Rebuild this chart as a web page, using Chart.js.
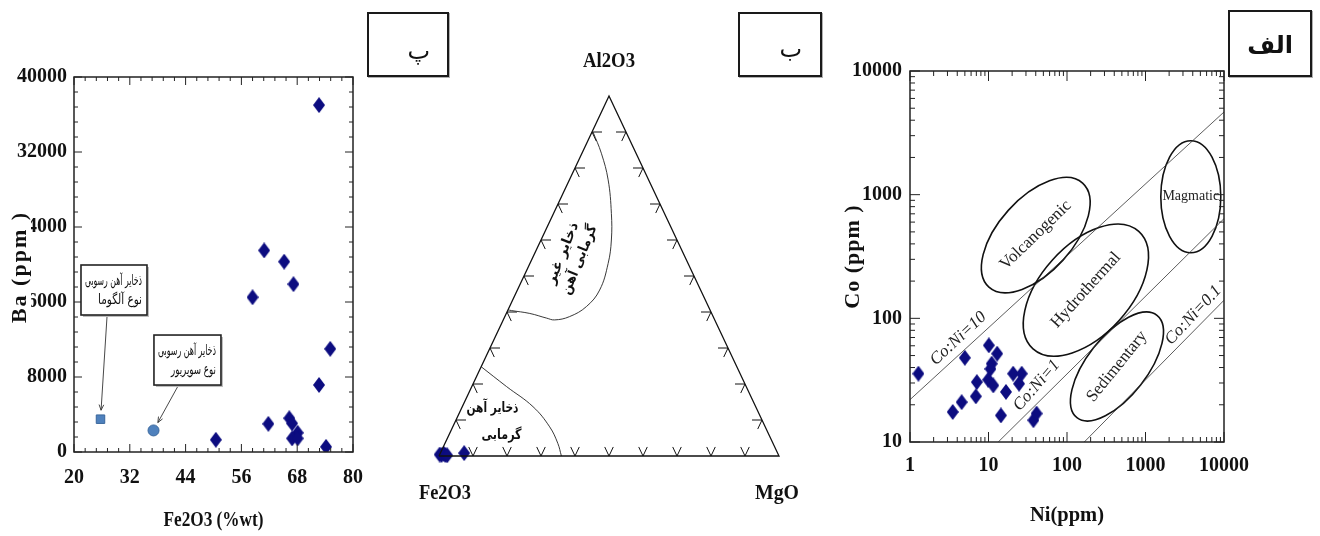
<!DOCTYPE html>
<html lang="fa">
<head>
<meta charset="utf-8">
<title>Iron deposit discrimination diagrams</title>
<script src="https://cdn.jsdelivr.net/npm/chart.js@4.4.1/dist/chart.umd.min.js"></script>
<style>
  html, body { margin: 0; background: #fff; }
  body { position: relative; width: 1320px; height: 536px; overflow: hidden; }
  .panel { position: absolute; top: 0; height: 536px; }
  .tag { position: absolute; box-sizing: border-box; border: 2px solid #1a1a1a; background: #fff;
         box-shadow: 1px 1px 0 #b0b0b0; font-family: "DejaVu Sans", sans-serif; font-size: 24px;
         line-height: 28px; color: #111; direction: rtl; }
  .tag span { position: absolute; }
</style>
</head>
<body>
<div class="panel" style="left:0;width:365px"><canvas id="baChart"></canvas></div>
<div class="panel" style="left:365px;width:465px"><canvas id="ternChart"></canvas></div>
<div class="panel" style="left:830px;width:490px"><canvas id="coChart"></canvas></div>

<div class="tag" style="left:367px;top:12px;width:82px;height:65px"><span style="right:17px;top:23px">پ</span></div>
<div class="tag" style="left:738px;top:12px;width:84px;height:65px"><span style="right:18px;top:21px">ب</span></div>
<div class="tag" style="left:1228px;top:10px;width:84px;height:67px"><span style="right:17px;top:19px;font-weight:bold">الف</span></div>

<script>
const SERIF = '"Liberation Serif", "Times New Roman", serif';
const ARABIC = '"DejaVu Sans", sans-serif';
const NAVY = '#0c0c80';

// --- panel پ : Ba vs Fe2O3 ---
const feWt  = [72.7, 60.9, 65.2, 67.2, 58.4, 75.1, 72.7, 61.8, 66.3, 66.9, 68.1, 66.9, 68.1, 50.5, 74.2];
const baPpm = [37000, 21500, 20300, 17900, 16500, 11000, 7150, 3000, 3600, 3050, 2050, 1450, 1450, 1300, 550];
const algomaFe = [25.7];
const algomaBa = [3500];
const superiorFe = [37.1];
const superiorBa = [2300];
const feTicks = [20, 32, 44, 56, 68, 80];
const baTicks = [0, 8000, 16000, 24000, 32000, 40000];

// --- panel ب : Fe2O3 - Al2O3 - MgO ternary (percent) ---
const sampleAl = [0.4, 0.3, 0.6, 0.3, 0.2, 0.8];
const sampleMg = [0, 0.6, 1.1, 1.7, 2.3, 7.0];
const triAl = [0, 0, 100, 0];
const triMg = [0, 100, 0, 0];
const nonHydroAl = [90, 84.1, 76.7, 67.4, 60, 53.5, 46.1, 41.5, 38.7, 37.8, 38.3, 39.6, 40.4, 40.6];
const nonHydroMg = [0.3, 5.7, 11.4, 17.0, 20.7, 23, 24.2, 22.6, 19, 15.1, 12.5, 6.9, 1.1, 0];
const hydroAl = [24.8, 19.3, 13.7, 8.1, 3.5, 0];
const hydroMg = [0, 10.2, 20.8, 28.5, 33.2, 36];

// --- panel الف : Co vs Ni ---
const niPpm = [1.28, 5.0, 10.1, 12.9, 11, 10.6, 9.9, 11.5, 7.1, 6.9, 4.55, 3.5, 14.4, 16.7, 20.6, 26.5, 24.5, 37.3, 41];
const coPpm = [35.7, 48, 60.5, 51.8, 43, 39, 31.9, 28.7, 30.5, 23.4, 21, 17.5, 16.4, 25.4, 35.7, 35.7, 29.6, 15, 17];
const niTicks = [1, 10, 100, 1000, 10000];
const coTicks = [10, 100, 1000, 10000];
const ratio10Ni = [1, 10000],    ratio10Co = [22, 4660];
const ratio1Ni = [13.3, 10000],  ratio1Co = [10, 640];
const ratio01Ni = [166, 10000],  ratio01Co = [10, 140];

// annotations (anchors in data units, sizes in px)
const regions = [
  { name: 'Volcanogenic', ni: 40,   co: 471, rx: 70, ry: 37, rot: -48, textRot: -44 },
  { name: 'Hydrothermal', ni: 174,  co: 169, rx: 79, ry: 45, rot: -48, textRot: -48 },
  { name: 'Sedimentary',  ni: 433,  co: 40.8, rx: 65, ry: 30, rot: -52, textRot: -51 },
  { name: 'Magmatic',     ni: 3776, co: 963, rx: 30, ry: 56, rot: 0,   textRot: 0 }
];
const ratioLabels = [
  { text: 'Co:Ni=10',  ni: 4.12, co: 68.5, rot: -43 },
  { text: 'Co:Ni=1',   ni: 41.1, co: 28.7, rot: -49 },
  { text: 'Co:Ni=0.1', ni: 4064, co: 106,  rot: -47 }
];
const callouts = [
  { lines: ['ذخایر آهن رسوبی', 'نوع آلگوما'], fe: 28.6, ba: 17280, w: 66, h: 50, dx: -7, tx: algomaFe[0], ty: algomaBa[0] },
  { lines: ['ذخایر آهن رسوبی', 'نوع سوپریور'], fe: 44.4, ba: 9810, w: 67, h: 50, dx: -10, tx: superiorFe[0], ty: superiorBa[0] }
];

function pts(xs, ys) { return xs.map((v, i) => ({ x: v, y: ys[i] })); }
function ternPts(al, mg) { return al.map((a, i) => ({ x: mg[i] + a / 2, y: a })); }

function makeDiamond(w, h, color) {
  const c = document.createElement('canvas');
  c.width = w; c.height = h;
  const g = c.getContext('2d');
  g.fillStyle = color;
  g.beginPath();
  g.moveTo(w / 2, 0); g.lineTo(w, h / 2); g.lineTo(w / 2, h); g.lineTo(0, h / 2);
  g.closePath(); g.fill();
  return c;
}
const diamond = makeDiamond(12, 16, NAVY);

function seg(ctx, x1, y1, x2, y2) {
  ctx.beginPath(); ctx.moveTo(x1, y1); ctx.lineTo(x2, y2); ctx.stroke();
}

function text(ctx, str, x, y, font, rot, opts) {
  opts = opts || {};
  ctx.save();
  ctx.translate(x, y);
  if (rot) ctx.rotate(rot * Math.PI / 180);
  ctx.font = font;
  ctx.fillStyle = opts.color || '#111';
  ctx.textAlign = opts.align || 'center';
  ctx.textBaseline = 'middle';
  if (opts.rtl) ctx.direction = 'rtl';
  if (opts.spacing) ctx.letterSpacing = opts.spacing;
  const w = ctx.measureText(str).width;
  if (opts.maxWidth && w > opts.maxWidth) ctx.scale(opts.maxWidth / w, 1);
  if (opts.bg) {
    ctx.fillStyle = opts.bg;
    ctx.fillRect(-w / 2 - 2, -opts.bgH / 2, w + 4, opts.bgH);
    ctx.fillStyle = opts.color || '#111';
  }
  ctx.fillText(str, 0, 0);
  ctx.restore();
}

function arrow(ctx, x1, y1, x2, y2) {
  seg(ctx, x1, y1, x2, y2);
  const a = Math.atan2(y2 - y1, x2 - x1);
  for (const s of [-1, 1]) {
    const b = a + Math.PI + s * 0.4;
    seg(ctx, x2, y2, x2 + 6 * Math.cos(b), y2 + 6 * Math.sin(b));
  }
}

function fixAxis(w, h) {
  return s => {
    if (w != null) s.width = w;
    if (h != null) s.height = h;
    s.paddingLeft = s.paddingRight = s.paddingTop = s.paddingBottom = 0;
  };
}

const tickFont = { family: SERIF, size: 20, weight: 'bold' };

function axis(type, min, max, values, size, isX, pad) {
  return {
    type, min, max,
    afterBuildTicks: s => { s.ticks = values.map(v => ({ value: v })); },
    afterFit: isX ? fixAxis(null, size) : fixAxis(size, null),
    grid: { display: false, drawTicks: false },
    border: { display: false },
    ticks: { padding: pad, color: '#111', font: tickFont, autoSkip: false, maxRotation: 0, callback: v => String(v) }
  };
}

// inward tick marks on all four sides
function frameTicks(ctx, a, xs, ys) {
  ctx.save();
  ctx.strokeStyle = '#222';
  ctx.lineWidth = 1;
  xs.forEach(t => {
    seg(ctx, t.px, a.bottom, t.px, a.bottom - t.len);
    seg(ctx, t.px, a.top, t.px, a.top + t.len);
  });
  ys.forEach(t => {
    seg(ctx, a.left, t.px, a.left + t.len, t.px);
    seg(ctx, a.right, t.px, a.right - t.len, t.px);
  });
  ctx.lineWidth = 1.5;
  ctx.strokeRect(a.left, a.top, a.right - a.left, a.bottom - a.top);
  ctx.restore();
}

function logTicks(scale, min, max) {
  const out = [];
  for (let k = Math.round(Math.log10(min)); Math.pow(10, k) <= max; k++) {
    for (let m = 1; m <= 9; m++) {
      const v = m * Math.pow(10, k);
      if (v > max) break;
      out.push({ px: scale.getPixelForValue(v), len: m === 1 ? 10 : 5 });
    }
  }
  return out;
}

// ---------- chart پ ----------
const baDecor = {
  id: 'baDecor',
  afterDraw(chart) {
    const { ctx, chartArea: a, scales: { x, y } } = chart;
    const xs = [], ys = [];
    for (let i = 0; i <= 25; i++) xs.push({ px: x.getPixelForValue(20 + i * 2.4), len: i % 5 ? 4 : 8 });
    for (let i = 0; i <= 25; i++) ys.push({ px: y.getPixelForValue(i * 1600), len: i % 5 ? 4 : 8 });
    frameTicks(ctx, a, xs, ys);

    text(ctx, 'Fe2O3 (%wt)', (a.left + a.right) / 2, a.bottom + 68, `bold 22px ${SERIF}`, 0, { maxWidth: 100 });
    text(ctx, 'Ba (ppm )', 20, 267, `bold 22px ${SERIF}`, -90, { spacing: '2px', bg: '#fff', bgH: 22 });

    ctx.save();
    ctx.strokeStyle = '#333';
    ctx.lineWidth = 0.9;
    callouts.forEach(c => {
      const cx = x.getPixelForValue(c.fe), cy = y.getPixelForValue(c.ba);
      const l = cx - c.w / 2, t = cy - c.h / 2;
      ctx.save();
      ctx.fillStyle = '#bdbdbd';
      ctx.fillRect(l + 2, t + 2, c.w, c.h);
      ctx.fillStyle = '#fff';
      ctx.fillRect(l, t, c.w, c.h);
      ctx.lineWidth = 1.6;
      ctx.strokeStyle = '#222';
      ctx.strokeRect(l, t, c.w, c.h);
      ctx.restore();
      text(ctx, c.lines[0], l + c.w - 5, t + 16, `14px ${ARABIC}`, 0, { align: 'right', rtl: true, maxWidth: c.w - 9 });
      text(ctx, c.lines[1], l + c.w - 5, t + 35, `14px ${ARABIC}`, 0, { align: 'right', rtl: true, maxWidth: c.w - 22 });
      const sx = cx + c.dx, sy = t + c.h + 2;
      const px = x.getPixelForValue(c.tx), py = y.getPixelForValue(c.ty);
      const d = Math.hypot(sx - px, sy - py);
      arrow(ctx, sx, sy, px + (sx - px) / d * 9, py + (sy - py) / d * 9);
    });
    ctx.restore();
  }
};

new Chart(document.getElementById('baChart'), {
  type: 'scatter',
  data: {
    datasets: [
      { data: pts(feWt, baPpm), pointStyle: diamond, pointRadius: 8 },
      { data: pts(algomaFe, algomaBa), pointStyle: 'rect', pointRadius: 6, backgroundColor: '#4f81bd', borderColor: '#3a679c', borderWidth: 1 },
      { data: pts(superiorFe, superiorBa), pointStyle: 'circle', pointRadius: 5.5, backgroundColor: '#4f81bd', borderColor: '#3a679c', borderWidth: 1 }
    ]
  },
  options: {
    responsive: true,
    maintainAspectRatio: false,
    animation: false,
    layout: { padding: { top: 77, right: 12, bottom: 44, left: 0 } },
    plugins: { legend: { display: false }, tooltip: { enabled: false } },
    scales: {
      x: axis('linear', 20, 80, feTicks, 40, true, 14),
      y: axis('linear', 0, 40000, baTicks, 74, false, 7)
    }
  },
  plugins: [baDecor]
});

// ---------- chart ب ----------
const ternDecor = {
  id: 'ternDecor',
  beforeDatasetsDraw(chart) {
    const { ctx, scales: { x, y } } = chart;
    const P = (al, mg) => ({ x: x.getPixelForValue(mg + al / 2), y: y.getPixelForValue(al) });
    const F = P(0, 0), M = P(0, 100), A = P(100, 0);
    const unit = (p, q) => { const d = Math.hypot(q.x - p.x, q.y - p.y); return { x: (q.x - p.x) / d, y: (q.y - p.y) / d }; };
    const uFA = unit(F, A), uMA = unit(M, A), uFM = unit(F, M), uAM = unit(A, M), uMF = unit(M, F), uAF = unit(A, F);
    const L = 10;
    ctx.save();
    ctx.strokeStyle = '#111';
    ctx.lineWidth = 1;
    const vee = (p, u1, u2) => { seg(ctx, p.x, p.y, p.x + u1.x * L, p.y + u1.y * L); seg(ctx, p.x, p.y, p.x + u2.x * L, p.y + u2.y * L); };
    for (let k = 1; k <= 9; k++) {
      vee(P(0, 10 * k), uFA, uMA);
      vee(P(10 * k, 0), uFM, uAM);
      vee(P(10 * k, 100 - 10 * k), uMF, uAF);
    }
    ctx.restore();

    const lab = `bold 20px ${SERIF}`;
    text(ctx, 'Al2O3', A.x, A.y - 34, lab, 0, { maxWidth: 52 });
    text(ctx, 'Fe2O3', F.x + 6, F.y + 38, lab, 0, { maxWidth: 52 });
    text(ctx, 'MgO', M.x - 2, M.y + 38, lab, 0, { maxWidth: 44 });

    const af = `bold 14px ${ARABIC}`;
    const p1 = P(13.3, 9.1), p2 = P(5.8, 15.5);
    text(ctx, 'ذخایر آهن', p1.x, p1.y, af, 0, { rtl: true, maxWidth: 52 });
    text(ctx, 'گرمابی', p2.x, p2.y, af, 0, { rtl: true, maxWidth: 40 });
    const c = P(55.4, 11.2), r = -68 * Math.PI / 180;
    const nx = -Math.sin(r), ny = Math.cos(r);
    text(ctx, 'ذخایر غیر', c.x - nx * 9, c.y - ny * 9, af, -68, { rtl: true, maxWidth: 72 });
    text(ctx, 'گرمابی آهن', c.x + nx * 9, c.y + ny * 9, af, -68, { rtl: true, maxWidth: 74 });
  }
};

new Chart(document.getElementById('ternChart'), {
  type: 'scatter',
  data: {
    datasets: [
      { type: 'line', data: ternPts(triAl, triMg), borderColor: '#111', borderWidth: 1.3, pointRadius: 0, fill: false, clip: false },
      { type: 'line', data: ternPts(nonHydroAl, nonHydroMg), borderColor: '#222', borderWidth: 0.9, pointRadius: 0, tension: 0.4, fill: false },
      { type: 'line', data: ternPts(hydroAl, hydroMg), borderColor: '#222', borderWidth: 0.9, pointRadius: 0, tension: 0.4, fill: false },
      { data: ternPts(sampleAl, sampleMg), pointStyle: diamond, pointRadius: 8, clip: false }
    ]
  },
  options: {
    responsive: true,
    maintainAspectRatio: false,
    animation: false,
    layout: { padding: { top: 96, right: 51, bottom: 80, left: 74 } },
    plugins: { legend: { display: false }, tooltip: { enabled: false } },
    scales: {
      x: { type: 'linear', min: 0, max: 100, display: false },
      y: { type: 'linear', min: 0, max: 100, display: false }
    }
  },
  plugins: [ternDecor]
});

// ---------- chart الف ----------
const coDecor = {
  id: 'coDecor',
  beforeDatasetsDraw(chart) {
    const { ctx, scales: { x, y } } = chart;
    ctx.save();
    ctx.strokeStyle = '#111';
    ctx.lineWidth = 1.6;
    regions.forEach(g => {
      const cx = x.getPixelForValue(g.ni), cy = y.getPixelForValue(g.co);
      ctx.beginPath();
      ctx.ellipse(cx, cy, g.rx, g.ry, g.rot * Math.PI / 180, 0, Math.PI * 2);
      ctx.stroke();
      const f = g.name === 'Magmatic' ? `14px ${SERIF}` : `17px ${SERIF}`;
      text(ctx, g.name, cx, cy, f, g.textRot, { color: '#222', maxWidth: g.name === 'Magmatic' ? 58 : 100 });
    });
    ctx.restore();
    ratioLabels.forEach(r => {
      text(ctx, r.text, x.getPixelForValue(r.ni), y.getPixelForValue(r.co), `italic 17px ${SERIF}`, r.rot, { color: '#222' });
    });
  },
  afterDraw(chart) {
    const { ctx, chartArea: a, scales: { x, y } } = chart;
    frameTicks(ctx, a, logTicks(x, 1, 10000), logTicks(y, 10, 10000));
    text(ctx, 'Co (ppm )', 23, (a.top + a.bottom) / 2, `bold 22px ${SERIF}`, -90, { spacing: '1px' });
    text(ctx, 'Ni(ppm)', (a.left + a.right) / 2, a.bottom + 73, `bold 22px ${SERIF}`, 0, { maxWidth: 74 });
  }
};

const ratioStyle = { type: 'line', borderColor: '#333', borderWidth: 0.8, pointRadius: 0, fill: false };

new Chart(document.getElementById('coChart'), {
  type: 'scatter',
  data: {
    datasets: [
      Object.assign({ data: pts(ratio10Ni, ratio10Co) }, ratioStyle),
      Object.assign({ data: pts(ratio1Ni, ratio1Co) }, ratioStyle),
      Object.assign({ data: pts(ratio01Ni, ratio01Co) }, ratioStyle),
      { data: pts(niPpm, coPpm), pointStyle: diamond, pointRadius: 8 }
    ]
  },
  options: {
    responsive: true,
    maintainAspectRatio: false,
    animation: false,
    layout: { padding: { top: 71, right: 96, bottom: 58, left: 0 } },
    plugins: { legend: { display: false }, tooltip: { enabled: false } },
    scales: {
      x: axis('logarithmic', 1, 10000, niTicks, 36, true, 12),
      y: axis('logarithmic', 10, 10000, coTicks, 80, false, 8)
    }
  },
  plugins: [coDecor]
});
</script>
</body>
</html>
